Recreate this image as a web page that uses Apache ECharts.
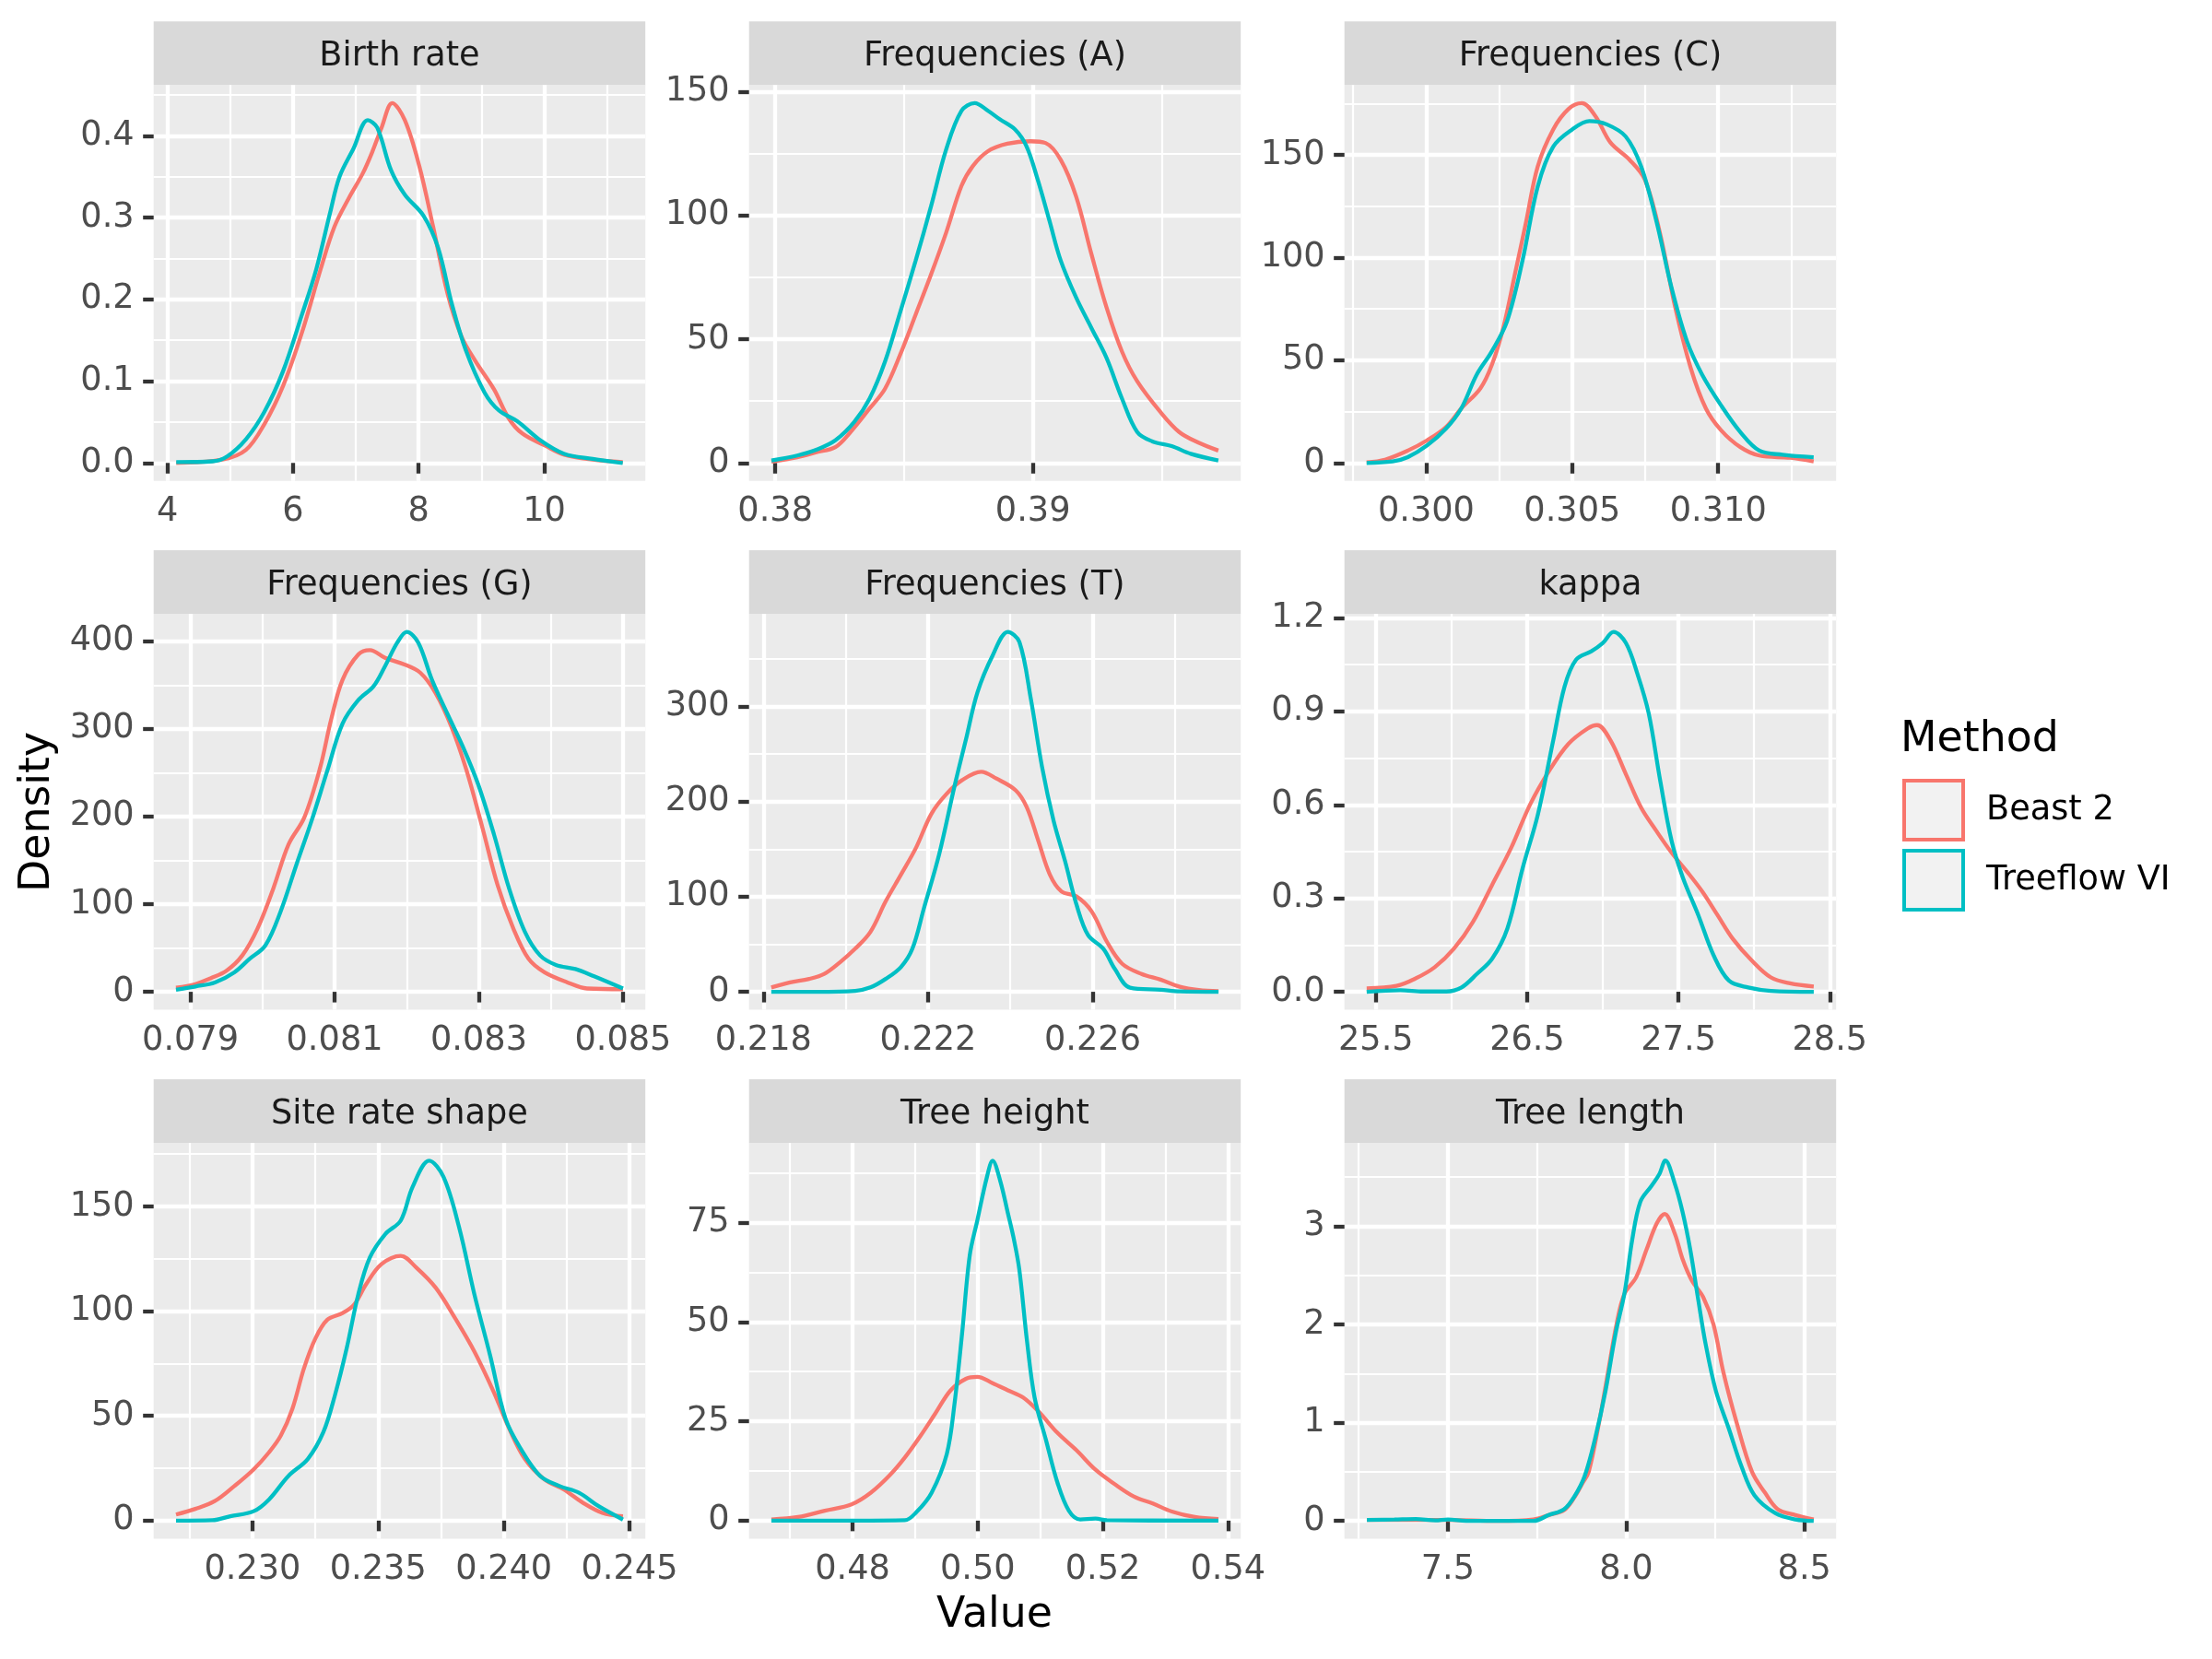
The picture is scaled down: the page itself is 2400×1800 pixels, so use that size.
<!DOCTYPE html>
<html>
<head>
<meta charset="utf-8">
<title>Posterior densities</title>
<script src="https://cdn.jsdelivr.net/npm/echarts@6.0.0/dist/echarts.min.js"></script>
<style>
  html, body { margin: 0; padding: 0; background: #ffffff; }
  #chart { width: 2400px; height: 1800px; }
</style>
</head>
<body>
<div id="chart"></div>
<script>
// ---- data (x, density) ----
const birthRateBeast = [[4.14,0.000],[4.87,0.004],[5.25,0.016],[5.54,0.047],[5.84,0.094],[6.14,0.159],[6.44,0.237],[6.66,0.289],[6.89,0.324],[7.11,0.354],[7.26,0.380],[7.41,0.410],[7.58,0.440],[7.78,0.419],[8.01,0.363],[8.23,0.289],[8.46,0.207],[8.68,0.155],[8.90,0.125],[9.20,0.090],[9.43,0.055],[9.65,0.036],[10.02,0.021],[10.32,0.010],[10.77,0.004],[11.25,0.001]];
const birthRateTreeflow = [[4.14,0.001],[4.72,0.002],[4.95,0.008],[5.25,0.029],[5.54,0.062],[5.84,0.112],[6.14,0.181],[6.37,0.237],[6.59,0.306],[6.74,0.350],[6.96,0.384],[7.19,0.419],[7.34,0.410],[7.56,0.358],[7.78,0.328],[8.08,0.302],[8.31,0.263],[8.53,0.194],[8.75,0.138],[9.05,0.086],[9.28,0.064],[9.57,0.051],[9.95,0.027],[10.32,0.011],[10.77,0.005],[11.25,0.000]];

const freqABeast = [[0.37985,0.5],[0.38085,2.3],[0.38159,4.3],[0.38233,6.4],[0.38292,12.5],[0.38366,22],[0.38426,30],[0.38485,43.8],[0.38545,60],[0.38604,76],[0.38663,93],[0.38723,112],[0.38767,120],[0.38826,126],[0.38901,129],[0.3899,130],[0.39049,129.3],[0.39108,122.5],[0.39168,107.6],[0.39227,84.5],[0.39286,62.8],[0.39346,45],[0.39405,33],[0.39494,20.7],[0.39568,12.5],[0.39643,8.2],[0.3972,5]];
const freqATreeflow = [[0.37985,1],[0.38085,3],[0.38159,5.3],[0.38233,9.1],[0.38307,16.6],[0.38366,26],[0.38426,41],[0.38485,61],[0.38545,81.8],[0.38604,103.5],[0.38663,126.6],[0.38723,142.3],[0.38774,145.4],[0.38826,142.3],[0.38871,138.9],[0.3893,134.8],[0.38975,128],[0.39019,114.4],[0.39064,98],[0.39108,81.8],[0.39168,66.8],[0.39227,54.6],[0.39286,42.4],[0.39346,26],[0.39405,12.5],[0.39464,8.7],[0.39539,6.8],[0.39613,3.7],[0.3972,1]];

const freqCBeast = [[0.29796,0.3],[0.29859,1.6],[0.29937,6],[0.30003,11],[0.30068,17.5],[0.3012,26.5],[0.30186,36.4],[0.30225,47.8],[0.30264,65.8],[0.30304,92],[0.30343,118],[0.30382,144.4],[0.30435,162.4],[0.30487,172.3],[0.30533,175.2],[0.30579,169],[0.30631,156],[0.30696,147.7],[0.30749,137.9],[0.30801,111.7],[0.30853,75.7],[0.30906,46.2],[0.30958,26.5],[0.3101,15.9],[0.31076,7.7],[0.31141,3.6],[0.31246,2.5],[0.31327,0.7]];
const freqCTreeflow = [[0.29796,0],[0.29885,0.7],[0.29937,2.8],[0.30003,8.5],[0.30068,16.7],[0.3012,26.5],[0.30173,43],[0.30225,54.4],[0.30277,69],[0.3033,98.6],[0.30382,134.6],[0.30435,154],[0.305,162.4],[0.30559,166.5],[0.30618,164.9],[0.30683,159],[0.30736,144.4],[0.30788,118],[0.3084,85.5],[0.30893,59.3],[0.30945,43],[0.3101,28],[0.31076,15],[0.31141,6],[0.3122,4],[0.31327,2.8]];

const freqGBeast = [[0.0788,4.6],[0.07907,8.8],[0.07928,15.4],[0.0795,24],[0.07972,41.5],[0.07993,72],[0.08015,118],[0.08036,168],[0.08058,199],[0.0808,256],[0.08095,310],[0.08111,356],[0.08133,385],[0.08149,390],[0.0817,381],[0.08197,373.5],[0.08219,364],[0.0824,341],[0.08262,302.5],[0.08283,252.6],[0.08305,187.3],[0.08326,122],[0.08348,72],[0.08369,37.6],[0.08391,22.3],[0.08423,10.7],[0.0845,3.8],[0.085,3]];
const freqGTreeflow = [[0.0788,2.3],[0.07907,6.1],[0.07934,10.7],[0.07961,22.3],[0.07982,37.6],[0.08004,53],[0.08025,91.4],[0.08047,145],[0.08068,195],[0.0809,252.6],[0.08111,306],[0.08133,333],[0.08154,348.6],[0.0817,371.6],[0.08187,398.5],[0.0820,410.7],[0.08216,398.5],[0.08235,356],[0.08256,318],[0.08278,279.5],[0.08299,237],[0.08321,179.7],[0.08342,118],[0.08364,68.3],[0.08385,41.5],[0.08407,30.7],[0.08434,26],[0.0846,17.7],[0.085,3.8]];

const freqTBeast = [[0.21819,4.6],[0.21865,9.9],[0.21911,13.5],[0.21948,18.8],[0.21986,31],[0.22023,45.3],[0.2206,63],[0.22097,95],[0.22134,123],[0.22171,151.6],[0.22208,187],[0.22245,208],[0.22283,222.5],[0.22329,231.3],[0.22366,224.2],[0.22413,211.8],[0.2244,194],[0.22468,158.7],[0.22496,123.3],[0.22524,105.6],[0.22561,100.2],[0.22598,84.3],[0.22635,52.4],[0.22672,29.4],[0.22719,18.8],[0.22765,12.8],[0.22812,5.3],[0.22858,1.8],[0.22906,0.7]];
const freqTTreeflow = [[0.21819,0],[0.2193,0],[0.22023,1],[0.2206,4.6],[0.22097,13.5],[0.22134,25.9],[0.22162,45.3],[0.2219,87.8],[0.22227,144.5],[0.22264,215.4],[0.22292,265],[0.2232,314.6],[0.22357,353.5],[0.22394,378.3],[0.22422,367.7],[0.2245,307.5],[0.22477,236.6],[0.22505,180],[0.22533,137.4],[0.22561,91.4],[0.22589,59.5],[0.22626,45.3],[0.22654,24],[0.22691,4.3],[0.22765,2.1],[0.22812,0.4],[0.22906,0]];

const kappaBeast = [[25.439,0.011],[25.636,0.019],[25.763,0.043],[25.889,0.079],[26.015,0.138],[26.141,0.224],[26.268,0.343],[26.394,0.462],[26.52,0.602],[26.646,0.710],[26.773,0.796],[26.899,0.845],[26.962,0.856],[27.051,0.807],[27.152,0.699],[27.253,0.591],[27.354,0.516],[27.455,0.446],[27.556,0.386],[27.657,0.322],[27.758,0.246],[27.859,0.170],[27.985,0.100],[28.111,0.046],[28.237,0.027],[28.394,0.017]];
const kappaTreeflow = [[25.439,0],[25.662,0.005],[25.813,0.001],[25.965,0.001],[26.066,0.014],[26.167,0.057],[26.268,0.106],[26.369,0.203],[26.47,0.397],[26.571,0.570],[26.672,0.807],[26.747,0.980],[26.823,1.066],[26.924,1.093],[27.0,1.120],[27.071,1.155],[27.152,1.120],[27.227,1.023],[27.303,0.894],[27.379,0.678],[27.455,0.483],[27.53,0.365],[27.631,0.246],[27.732,0.117],[27.833,0.036],[27.96,0.014],[28.111,0.003],[28.394,0]];

const siteRateBeast = [[0.22696,2.9],[0.22773,5.6],[0.2285,9.3],[0.22928,16.5],[0.23005,24.5],[0.23066,32.6],[0.23113,40.6],[0.23159,53.4],[0.23205,72.7],[0.23251,87.1],[0.23298,95.9],[0.23359,99.1],[0.23405,103.2],[0.23452,112.8],[0.23513,122.4],[0.2359,126.4],[0.23652,120.8],[0.23729,111.2],[0.23806,96.7],[0.23883,80.7],[0.2396,61.4],[0.24022,43.8],[0.24084,29.4],[0.24161,19.7],[0.24238,14.9],[0.24315,8.5],[0.24392,3.7],[0.24474,2.1]];
const siteRateTreeflow = [[0.22696,0],[0.2284,0.2],[0.22912,2.1],[0.23005,4.5],[0.23066,10.1],[0.23143,21.3],[0.2322,29.4],[0.23282,42.2],[0.23328,59.8],[0.23375,82.3],[0.23421,108],[0.23467,125.6],[0.23529,136.9],[0.2359,143.3],[0.23637,159.3],[0.23703,171.8],[0.2376,164.1],[0.23822,140.1],[0.23883,108],[0.23945,79.1],[0.24007,48.6],[0.24068,34.2],[0.24145,21.3],[0.24222,16.5],[0.24299,13.3],[0.24377,6.9],[0.24474,0.5]];

const treeHeightBeast = [[0.46701,0.3],[0.47128,0.9],[0.47555,2.5],[0.47982,4.1],[0.48287,7],[0.48591,11.4],[0.48835,15.9],[0.49079,21.2],[0.49323,27],[0.49567,32.8],[0.49811,35.7],[0.49994,36.2],[0.50238,34.6],[0.50482,32.8],[0.50726,31],[0.5097,27.5],[0.51274,22.1],[0.51579,17.7],[0.51884,12.8],[0.52189,9.2],[0.52494,6.1],[0.52799,4.3],[0.53104,2.3],[0.5347,0.9],[0.53848,0.4]];
const treeHeightTreeflow = [[0.46701,0],[0.48043,0],[0.48835,0.1],[0.49018,2.1],[0.49262,7],[0.49506,16.8],[0.49628,29.3],[0.4975,47.1],[0.49872,66.7],[0.49994,75.6],[0.50146,86.4],[0.50238,90.6],[0.5036,85.5],[0.50482,77.4],[0.50573,71.2],[0.50665,63.2],[0.50787,45.3],[0.50909,31],[0.51091,20.3],[0.51274,9.6],[0.51457,2.5],[0.5164,0.3],[0.51884,0.5],[0.52067,0.1],[0.53848,0]];

const treeLengthBeast = [[7.273,0.01],[7.35,0.01],[7.5,0.01],[7.639,0],[7.74,0.015],[7.783,0.06],[7.826,0.11],[7.855,0.24],[7.877,0.38],[7.895,0.50],[7.924,1.0],[7.949,1.51],[7.973,2.0],[7.995,2.31],[8.028,2.48],[8.057,2.76],[8.086,3.03],[8.108,3.125],[8.136,2.93],[8.158,2.67],[8.184,2.45],[8.216,2.28],[8.245,2.0],[8.273,1.51],[8.31,1.0],[8.353,0.50],[8.389,0.29],[8.425,0.12],[8.475,0.06],[8.526,0.015]];
const treeLengthTreeflow = [[7.273,0.01],[7.35,0.015],[7.41,0.02],[7.465,0.005],[7.5,0.015],[7.552,0],[7.74,0],[7.783,0.06],[7.826,0.12],[7.855,0.25],[7.884,0.46],[7.913,0.84],[7.942,1.32],[7.97,1.90],[7.996,2.33],[8.017,2.86],[8.04,3.25],[8.071,3.41],[8.093,3.53],[8.11,3.67],[8.136,3.44],[8.158,3.15],[8.18,2.76],[8.201,2.28],[8.223,1.80],[8.252,1.32],[8.288,0.94],[8.324,0.55],[8.36,0.26],[8.418,0.08],[8.475,0.015],[8.526,0]];

// ---- facet titles, axis limits, ticks ----
const facetTitles = ['Birth rate', 'Frequencies (A)', 'Frequencies (C)', 'Frequencies (G)', 'Frequencies (T)', 'kappa', 'Site rate shape', 'Tree height', 'Tree length'];
const xLimits = [[3.78, 11.61], [0.37898, 0.39807], [0.29720, 0.31404], [0.07849, 0.08531], [0.21765, 0.2296], [25.292, 28.542], [0.22607, 0.24563], [0.46344, 0.54205], [7.21, 8.589]];
const yLimits = [[-0.022, 0.462], [-7.27, 152.7], [-8.76, 184.0], [-20.5, 431.2], [-18.9, 397.2], [-0.0578, 1.213], [-8.6, 180.4], [-4.53, 95.1], [-0.18, 3.85]];

const xTicks = [[4, 6, 8, 10], [0.38, 0.39], [0.300, 0.305, 0.310], [0.079, 0.081, 0.083, 0.085], [0.218, 0.222, 0.226], [25.5, 26.5, 27.5, 28.5], [0.230, 0.235, 0.240, 0.245], [0.48, 0.50, 0.52, 0.54], [7.5, 8.0, 8.5]];
const xTickLabels = [['4', '6', '8', '10'], ['0.38', '0.39'], ['0.300', '0.305', '0.310'], ['0.079', '0.081', '0.083', '0.085'], ['0.218', '0.222', '0.226'], ['25.5', '26.5', '27.5', '28.5'], ['0.230', '0.235', '0.240', '0.245'], ['0.48', '0.50', '0.52', '0.54'], ['7.5', '8.0', '8.5']];
const xMinor = [[5, 7, 9, 11], [0.385, 0.395], [0.2975, 0.3025, 0.3075, 0.3125], [0.080, 0.082, 0.084], [0.220, 0.224, 0.228], [26, 27, 28], [0.2275, 0.2325, 0.2375, 0.2425], [0.47, 0.49, 0.51, 0.53], [7.25, 7.75, 8.25]];

const yTicks = [[0, 0.1, 0.2, 0.3, 0.4], [0, 50, 100, 150], [0, 50, 100, 150], [0, 100, 200, 300, 400], [0, 100, 200, 300], [0, 0.3, 0.6, 0.9, 1.2], [0, 50, 100, 150], [0, 25, 50, 75], [0, 1, 2, 3]];
const yTickLabels = [['0.0', '0.1', '0.2', '0.3', '0.4'], ['0', '50', '100', '150'], ['0', '50', '100', '150'], ['0', '100', '200', '300', '400'], ['0', '100', '200', '300'], ['0.0', '0.3', '0.6', '0.9', '1.2'], ['0', '50', '100', '150'], ['0', '25', '50', '75'], ['0', '1', '2', '3']];
const yMinor = [[0.05, 0.15, 0.25, 0.35, 0.45], [25, 75, 125], [25, 75, 125, 175], [50, 150, 250, 350], [50, 150, 250, 350], [0.15, 0.45, 0.75, 1.05], [25, 75, 125, 175], [12.5, 37.5, 62.5, 87.5], [0.5, 1.5, 2.5, 3.5]];

const beastCurves = [birthRateBeast, freqABeast, freqCBeast, freqGBeast, freqTBeast, kappaBeast, siteRateBeast, treeHeightBeast, treeLengthBeast];
const treeflowCurves = [birthRateTreeflow, freqATreeflow, freqCTreeflow, freqGTreeflow, freqTTreeflow, kappaTreeflow, siteRateTreeflow, treeHeightTreeflow, treeLengthTreeflow];
const methods = ['Beast 2', 'Treeflow VI'];

// ---- layout / style ----
const FONT = 'DejaVu Sans';
const COLORS = ['#F8766D', '#00BFC4'];
const COL_LEFT = [166.7, 812.7, 1458.7];
const ROW_TOP = [92.3, 666.1, 1239.9];
const PANEL_W = 533.5, PANEL_H = 429.5, STRIP_H = 69;
const MAJOR_W = 4.3, MINOR_W = 2.2, CURVE_W = 4.3;
const AXIS_FS = 36.7, TITLE_FS = 45.8;

function pickLabel(ticks, labels, v) {
    const k = ticks.findIndex(t => Math.abs(t - v) < 1e-9 * Math.max(1, Math.abs(t)));
    return k >= 0 ? labels[k] : '';
}

const grids = [], xAxes = [], yAxes = [], series = [], graphics = [];

facetTitles.forEach((title, i) => {
    const left = COL_LEFT[i % 3];
    const top = ROW_TOP[Math.floor(i / 3)];

    grids.push({
        left: left, top: top, width: PANEL_W, height: PANEL_H,
        show: true, backgroundColor: '#EBEBEB', borderWidth: 0, containLabel: false
    });

    // major x (ticks, labels, grid)
    xAxes.push({
        type: 'value', gridIndex: i, position: 'bottom',
        min: xLimits[i][0], max: xLimits[i][1],
        axisLine: { show: false },
        axisTick: { show: true, length: 11.5, customValues: xTicks[i], lineStyle: { color: '#333333', width: MAJOR_W } },
        axisLabel: {
            show: true, customValues: xTicks[i], margin: 15.5,
            fontSize: AXIS_FS, fontFamily: FONT, color: '#4D4D4D',
            formatter: v => pickLabel(xTicks[i], xTickLabels[i], v)
        },
        splitLine: { show: true, lineStyle: { color: '#FFFFFF', width: MAJOR_W } }
    });
    // minor x grid
    xAxes.push({
        type: 'value', gridIndex: i, position: 'top',
        min: xLimits[i][0], max: xLimits[i][1],
        axisLine: { show: false },
        axisTick: { show: false, customValues: xMinor[i] },
        axisLabel: { show: false },
        splitLine: { show: true, lineStyle: { color: '#FFFFFF', width: MINOR_W } }
    });

    yAxes.push({
        type: 'value', gridIndex: i, position: 'left',
        min: yLimits[i][0], max: yLimits[i][1],
        axisLine: { show: false },
        axisTick: { show: true, length: 11.5, customValues: yTicks[i], lineStyle: { color: '#333333', width: MAJOR_W } },
        axisLabel: {
            show: true, customValues: yTicks[i], margin: 21,
            fontSize: AXIS_FS, fontFamily: FONT, color: '#4D4D4D',
            formatter: v => pickLabel(yTicks[i], yTickLabels[i], v)
        },
        splitLine: { show: true, lineStyle: { color: '#FFFFFF', width: MAJOR_W } }
    });
    yAxes.push({
        type: 'value', gridIndex: i, position: 'right',
        min: yLimits[i][0], max: yLimits[i][1],
        axisLine: { show: false },
        axisTick: { show: false, customValues: yMinor[i] },
        axisLabel: { show: false },
        splitLine: { show: true, lineStyle: { color: '#FFFFFF', width: MINOR_W } }
    });

    [beastCurves[i], treeflowCurves[i]].forEach((curve, m) => {
        series.push({
            type: 'line', name: methods[m],
            xAxisIndex: 2 * i, yAxisIndex: 2 * i,
            data: curve,
            symbol: 'none', showSymbol: false,
            smooth: 0.35,
            lineStyle: { color: COLORS[m], width: CURVE_W },
            itemStyle: { color: COLORS[m] },
            silent: true, z: 3 + m
        });
    });

    // facet strip
    graphics.push({
        type: 'rect', silent: true,
        shape: { x: left, y: top - STRIP_H, width: PANEL_W, height: STRIP_H },
        style: { fill: '#D9D9D9' }
    });
    graphics.push({
        type: 'text', silent: true,
        x: left + PANEL_W / 2, y: top - STRIP_H / 2 + 4,
        style: { text: title, fontSize: AXIS_FS, fontFamily: FONT, fill: '#1A1A1A', align: 'center', verticalAlign: 'middle' }
    });
});

// axis titles and legend title
graphics.push({
    type: 'text', silent: true, x: 41, y: 881, rotation: Math.PI / 2,
    style: { text: 'Density', fontSize: TITLE_FS, fontFamily: FONT, fill: '#000000', align: 'center', verticalAlign: 'middle' }
});
graphics.push({
    type: 'text', silent: true, x: 1079, y: 1753,
    style: { text: 'Value', fontSize: TITLE_FS, fontFamily: FONT, fill: '#000000', align: 'center', verticalAlign: 'middle' }
});
graphics.push({
    type: 'text', silent: true, x: 2062, y: 803,
    style: { text: 'Method', fontSize: TITLE_FS, fontFamily: FONT, fill: '#000000', align: 'left', verticalAlign: 'middle' }
});

const chart = echarts.init(document.getElementById('chart'));
chart.setOption({
    animation: false,
    backgroundColor: '#FFFFFF',
    textStyle: { fontFamily: FONT },
    grid: grids,
    xAxis: xAxes,
    yAxis: yAxes,
    series: series,
    legend: {
        data: methods.map((name, m) => ({
            name: name,
            itemStyle: { color: '#F2F2F2', borderColor: COLORS[m], borderWidth: 4 }
        })),
        orient: 'vertical',
        left: 2064, top: 845,
        padding: 0,
        itemWidth: 64, itemHeight: 64, itemGap: 8,
        icon: 'rect',
        selectedMode: false,
        itemStyle: { color: '#F2F2F2', borderWidth: 4 },
        textStyle: { fontSize: AXIS_FS, fontFamily: FONT, color: '#000000', padding: [8, 0, 0, 20] }
    },
    graphic: { elements: graphics }
});
</script>
</body>
</html>
